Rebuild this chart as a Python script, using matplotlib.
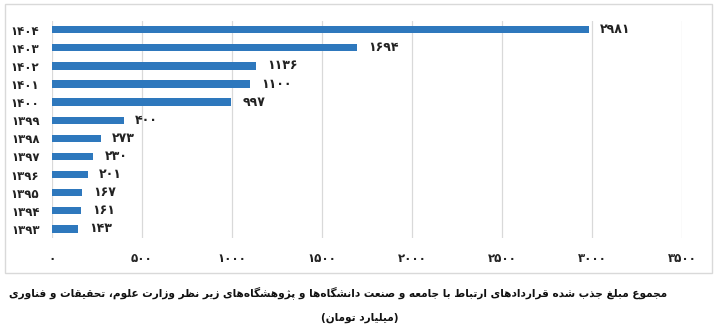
import matplotlib
matplotlib.use("Agg")
import matplotlib.pyplot as plt
from matplotlib.patches import Rectangle

# data
years = [1393, 1394, 1395, 1396, 1397, 1398, 1399, 1400, 1401, 1402, 1403, 1404]
amounts = [143, 161, 167, 201, 230, 273, 400, 997, 1100, 1136, 1694, 2981]
x_ticks = [0, 500, 1000, 1500, 2000, 2500, 3000, 3500]
caption = "مجموع مبلغ جذب شده قراردادهای ارتباط با جامعه و صنعت دانشگاه‌ها و پژوهشگاه‌های زیر نظر وزارت علوم، تحقیقات و فناوری"
unit = "(میلیارد تومان)"

BAR_COLOR = "#2E78BD"
GRID_COLOR = "#d9d9d9"

# --- tiny Persian shaper (no arabic_reshaper available) ---
# char: (isolated, final, initial, medial); 2-tuple = right-joining only
FORMS = {
    "ا": (0xFE8D, 0xFE8E), "آ": (0xFE81, 0xFE82),
    "ب": (0xFE8F, 0xFE90, 0xFE91, 0xFE92), "پ": (0xFB56, 0xFB57, 0xFB58, 0xFB59),
    "ت": (0xFE95, 0xFE96, 0xFE97, 0xFE98), "ث": (0xFE99, 0xFE9A, 0xFE9B, 0xFE9C),
    "ج": (0xFE9D, 0xFE9E, 0xFE9F, 0xFEA0), "چ": (0xFB7A, 0xFB7B, 0xFB7C, 0xFB7D),
    "ح": (0xFEA1, 0xFEA2, 0xFEA3, 0xFEA4), "خ": (0xFEA5, 0xFEA6, 0xFEA7, 0xFEA8),
    "د": (0xFEA9, 0xFEAA), "ذ": (0xFEAB, 0xFEAC), "ر": (0xFEAD, 0xFEAE),
    "ز": (0xFEAF, 0xFEB0), "ژ": (0xFB8A, 0xFB8B),
    "س": (0xFEB1, 0xFEB2, 0xFEB3, 0xFEB4), "ش": (0xFEB5, 0xFEB6, 0xFEB7, 0xFEB8),
    "ص": (0xFEB9, 0xFEBA, 0xFEBB, 0xFEBC), "ض": (0xFEBD, 0xFEBE, 0xFEBF, 0xFEC0),
    "ط": (0xFEC1, 0xFEC2, 0xFEC3, 0xFEC4), "ظ": (0xFEC5, 0xFEC6, 0xFEC7, 0xFEC8),
    "ع": (0xFEC9, 0xFECA, 0xFECB, 0xFECC), "غ": (0xFECD, 0xFECE, 0xFECF, 0xFED0),
    "ف": (0xFED1, 0xFED2, 0xFED3, 0xFED4), "ق": (0xFED5, 0xFED6, 0xFED7, 0xFED8),
    "ک": (0xFB8E, 0xFB8F, 0xFB90, 0xFB91), "گ": (0xFB92, 0xFB93, 0xFB94, 0xFB95),
    "ل": (0xFEDD, 0xFEDE, 0xFEDF, 0xFEE0), "م": (0xFEE1, 0xFEE2, 0xFEE3, 0xFEE4),
    "ن": (0xFEE5, 0xFEE6, 0xFEE7, 0xFEE8), "ه": (0xFEE9, 0xFEEA, 0xFEEB, 0xFEEC),
    "و": (0xFEED, 0xFEEE), "ی": (0xFBFC, 0xFBFD, 0xFBFE, 0xFBFF),
}
MIRROR = {"(": ")", ")": "("}


def fa(text):
    chars = list(text)
    out = []
    for i, c in enumerate(chars):
        if c == "\u200c":
            continue
        if c not in FORMS:
            out.append(MIRROR.get(c, c))
            continue
        prev = chars[i - 1] if i > 0 else ""
        nxt = chars[i + 1] if i + 1 < len(chars) else ""
        join_prev = prev in FORMS and len(FORMS[prev]) == 4
        join_next = len(FORMS[c]) == 4 and nxt in FORMS
        f = FORMS[c]
        if join_prev and join_next:
            code = f[3]
        elif join_prev:
            code = f[1]
        elif join_next:
            code = f[2]
        else:
            code = f[0]
        out.append(chr(code))
    return "".join(out[::-1])


def fa_num(n):
    return str(n).translate(str.maketrans("0123456789", "۰۱۲۳۴۵۶۷۸۹"))


plt.rcParams["font.family"] = ["DejaVu Sans"]
plt.rcParams["font.weight"] = "bold"

fig = plt.figure(figsize=(7.2, 3.29), dpi=100)
ax = fig.add_axes([0.0722, 0.2766, 0.875, 0.6608])

pos = list(range(len(years)))
ax.barh(pos, amounts, height=0.4, color=BAR_COLOR, zorder=3)

for p, v in zip(pos, amounts):
    ax.annotate(fa_num(v), (v, p), xytext=(8, 0), textcoords="offset points",
                va="center", ha="left", fontsize=9, fontweight="bold",
                color="#222222")

ax.set_xlim(0, 3500)
ax.set_ylim(-0.5, len(years) - 0.5)
ax.set_yticks(pos)
ax.set_yticklabels([fa_num(y) for y in years], fontsize=8.5, fontweight="bold")
ax.set_xticks(x_ticks)
ax.set_xticklabels([fa_num(t) for t in x_ticks], fontsize=8.5, fontweight="bold")
ax.tick_params(axis="both", length=0, colors="#222222")
ax.tick_params(axis="y", pad=9)
ax.tick_params(axis="x", pad=10)
ax.grid(axis="x", color=GRID_COLOR, linewidth=0.9, zorder=0)
for s in ax.spines.values():
    s.set_visible(False)

# outer chart frame
fig.patches.append(Rectangle((5 / 720, 1 - 273 / 329), 707 / 720, 269 / 329,
                             transform=fig.transFigure, fill=False,
                             edgecolor=GRID_COLOR, linewidth=1.0))

fig.text(338 / 720, 1 - 293 / 329, fa(caption), ha="center", va="center",
         fontsize=7.6, fontweight="bold", color="#111111")
fig.text(360 / 720, 1 - 318 / 329, fa(unit), ha="center", va="center",
         fontsize=7.6, fontweight="bold", color="#111111")

fig.savefig("out.png", dpi=100)
